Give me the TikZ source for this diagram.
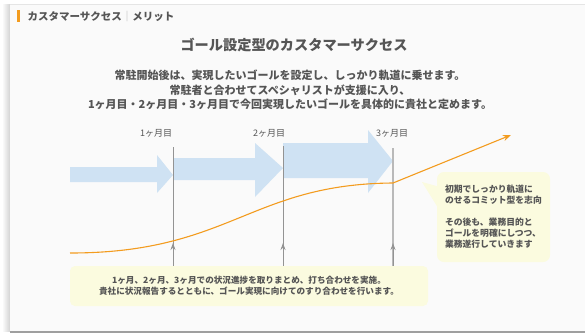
\documentclass[tikz,border=0pt]{standalone}
\usepackage{fontspec}
\setmainfont{Noto Sans CJK JP}
\usetikzlibrary{arrows.meta}
\definecolor{slidebg}{HTML}{FAFAFA}
\definecolor{txtgray}{HTML}{555555}
\definecolor{accent}{HTML}{F39C1F}
\definecolor{flowblue}{HTML}{CFE2F3}
\definecolor{noteyellow}{HTML}{FBFBDF}
\tikzset{
  monthlabel/.style={font=\fontsize{9}{10}\selectfont, text=txtgray},
  monthline/.style={draw=gray!85, line width=0.9pt},
  uparrow/.style={draw=gray!85, line width=0.9pt, -{Stealth[length=7pt,width=5pt]}},
  flow/.style={fill=flowblue},
  growth/.style={draw=accent, line width=1.1pt, -{Stealth[length=8pt,width=6pt]}},
  notebox/.style={fill=noteyellow, rounded corners=7pt, text=txtgray},
}
\begin{document}
\begin{tikzpicture}[x=1pt,y=-1pt]
\useasboundingbox (0,0) rectangle (585,333);
\fill[white] (0,0) rectangle (585,333);
\shade[left color=white, right color=gray!35] (2,4) rectangle (10,331);
\fill[slidebg] (10,4) rectangle (585,331);
\draw[gray!20, line width=0.6pt] (10,4) -- (585,4);
\fill[gray!75] (10,331) rectangle (585,333);
\fill[accent] (17,10) rectangle (19.5,22);
\node[anchor=west, text=txtgray, font=\fontsize{10.5}{12}\selectfont\bfseries] (header) at (24,16.5) {カスタマーサクセス{\color{gray!50}｜}メリット};
\node[text=txtgray, font=\fontsize{14.2}{16}\selectfont\bfseries] (title) at (294,45) {ゴール設定型のカスタマーサクセス};
\node[text=txtgray, align=center, font=\fontsize{11}{14.4}\selectfont\bfseries] (lead) at (290,90) {常駐開始後は、実現したいゴールを設定し、しっかり軌道に乗せます。\\常駐者と合わせてスペシャリストが支援に入り、\\1ヶ月目・2ヶ月目・3ヶ月目で今回実現したいゴールを具体的に貴社と定めます。};

\fill[flow] (70,167) -- (157,167) -- (157,155) -- (173,175) -- (157,193) -- (157,182) -- (70,182) -- cycle;
\fill[flow] (173,158) -- (255,158) -- (255,143) -- (283,168) -- (255,197) -- (255,180) -- (173,180) -- cycle;
\fill[flow] (283,143) -- (368,143) -- (368,130) -- (393,161) -- (368,193) -- (368,178) -- (283,178) -- cycle;

\node[monthlabel] (m1) at (156,133) {1ヶ月目};
\node[monthlabel] (m2) at (269,133) {2ヶ月目};
\node[monthlabel] (m3) at (392,133) {3ヶ月目};

\node[notebox, rounded corners=5pt, minimum width=358pt, minimum height=40pt, align=center, font=\fontsize{8.6}{11}\selectfont\bfseries] (report) at (249,286) {1ヶ月、2ヶ月、3ヶ月での状況進捗を取りまとめ、打ち合わせを実施。\\貴社に状況報告するとともに、ゴール実現に向けてのすり合わせを行います。};

\coordinate (l1) at (173,147);
\coordinate (l2) at (283,146);
\coordinate (l3) at (393,148);
\coordinate (a1) at (173,243);
\coordinate (a2) at (283,243);
\coordinate (a3) at (393,243);
\draw[monthline] (l1) -- (l1 |- report.north);
\draw[monthline] (l2) -- (l2 |- report.north);
\draw[monthline, draw=gray!55, line width=1.3pt] (l3) -- (l3 |- report.north);
\draw[uparrow] (a1 |- report.north) -- (a1);
\draw[uparrow] (a2 |- report.north) -- (a2);
\draw[uparrow] (a3 |- report.north) -- (a3);

\coordinate (start) at (70,253);
\coordinate (flat) at (393,183);
\coordinate (goal) at (511,135);
\draw[growth] (start) .. controls (230,253) and (250,184) .. (flat) -- (goal);

\fill[noteyellow] (422,182) -- (440,187) -- (440,211) -- cycle;
\node[notebox, minimum width=113pt, minimum height=90pt, text width=97pt, align=left, font=\fontsize{8.8}{11}\selectfont\bfseries] (note) at (493.5,217) {初期でしっかり軌道に\\のせるコミット型を志向\\[11pt]その後も、業務目的と\\ゴールを明確にしつつ、\\業務遂行していきます};
\end{tikzpicture}
\end{document}
